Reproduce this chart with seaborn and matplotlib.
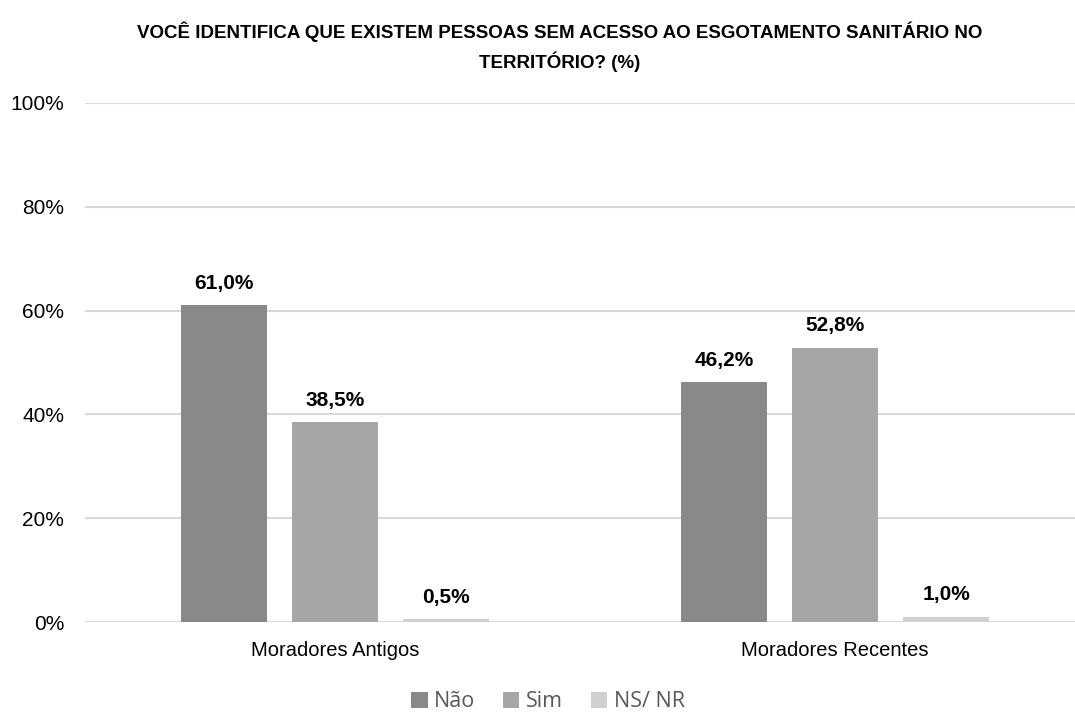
import numpy as np
import pandas as pd
import seaborn as sns
import matplotlib.pyplot as plt
from matplotlib.patches import Patch

# data
categories = ["Moradores Antigos", "Moradores Recentes"]
responses = ["Não", "Sim", "NS/ NR"]
nao = [61.0, 46.2]
sim = [38.5, 52.8]
nsnr = [0.5, 1.0]
colors = ["#898989", "#a6a6a6", "#d0d0d0"]

_df = pd.DataFrame({
    "grupo": categories * 3,
    "resposta": [r for r in responses for _ in categories],
    "valor": nao + sim + nsnr,
})

sns.set_style("white")
narrow = ["Liberation Sans Narrow", "Liberation Sans", "DejaVu Sans"]
plt.rcParams["font.family"] = narrow
plt.rcParams["text.color"] = "#000000"

fig = plt.figure(figsize=(10.75, 7.13), dpi=100)
ax = fig.add_axes([85 / 1075, 91 / 713, 1000 / 1075, 519 / 713])

sns.barplot(
    data=_df, x="grupo", y="valor", hue="resposta",
    hue_order=responses, order=categories, palette=colors,
    width=0.666, gap=0.225, saturation=1, legend=False,
    linewidth=0, ax=ax,
)

for _cont in ax.containers:
    _labels = [f"{b.get_height():.1f}%".replace(".", ",") for b in _cont]
    ax.bar_label(_cont, labels=_labels, padding=9, fontsize=15,
                 fontweight="bold", color="#000000", family=narrow)

ax.set_ylim(0, 100)
ax.set_xlim(-0.5, 1.5)
ax.set_yticks(np.arange(0, 101, 20))
ax.set_yticklabels([f"{v}%" for v in range(0, 101, 20)])
ax.yaxis.grid(True, color="#d9d9d9", linewidth=1.5)
ax.set_axisbelow(True)
for _s in ax.spines.values():
    _s.set_visible(False)
ax.tick_params(axis="y", length=0, labelsize=15, colors="#000000", pad=15)
ax.tick_params(axis="x", length=0, labelsize=14.5, colors="#000000", pad=14)
ax.set_xlabel("")
ax.set_ylabel("")

fig.text(560 / 1075, 1 - 21 / 713,
         "VOCÊ IDENTIFICA QUE EXISTEM PESSOAS SEM ACESSO AO ESGOTAMENTO SANITÁRIO NO\nTERRITÓRIO? (%)",
         ha="center", va="top", fontsize=13.5, fontweight="bold",
         color="#000000", linespacing=1.6, family=narrow)

_handles = [Patch(facecolor=c, edgecolor="none") for c in colors]
fig.legend(_handles, responses, loc="lower center", bbox_to_anchor=(548 / 1075, -0.014),
           ncol=3, frameon=False, handlelength=0.75, handleheight=0.75,
           handletextpad=0.3, columnspacing=1.3, borderpad=0,
           prop={"family": ["Open Sans", "DejaVu Sans"], "size": 15.5},
           labelcolor="#595959")

fig.savefig("out.png", dpi=100)
